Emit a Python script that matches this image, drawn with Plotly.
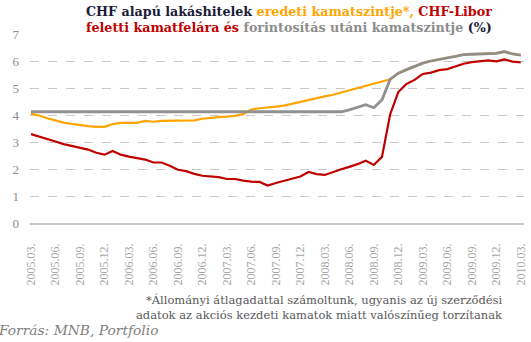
import plotly.graph_objects as go

months = []
for y in range(2005, 2011):
    for m in range(1, 13):
        if (y == 2005 and m < 3) or (y == 2010 and m > 3):
            continue
        months.append(f"{y}.{m:02d}.")

tick_labels = [m for m in months if int(m[5:7]) in (3, 6, 9, 12)]

orange_vals = [4.04, 3.98, 3.88, 3.80, 3.72, 3.67, 3.62, 3.59, 3.56, 3.56,
               3.66, 3.71, 3.71, 3.71, 3.78, 3.75, 3.78, 3.79, 3.80, 3.80,
               3.80, 3.86, 3.90, 3.92, 3.94, 3.97, 4.03, 4.20, 4.25, 4.27,
               4.31, 4.35, 4.42, 4.50, 4.56, 4.62, 4.69, 4.75, 4.83, 4.91,
               4.99, 5.08, 5.15, 5.23, 5.32, 5.55, 5.68, 5.80, 5.92, 6.00,
               6.07, 6.12, 6.17, 6.24, 6.25, 6.26, 6.27, 6.28, 6.35, 6.26,
               6.22]

red_vals = [3.29, 3.20, 3.13, 3.02, 2.92, 2.86, 2.80, 2.72, 2.60, 2.53,
            2.67, 2.53, 2.46, 2.40, 2.35, 2.24, 2.24, 2.12, 1.97, 1.92,
            1.82, 1.75, 1.72, 1.70, 1.63, 1.63, 1.57, 1.53, 1.52, 1.39,
            1.48, 1.56, 1.63, 1.72, 1.89, 1.81, 1.78, 1.89, 1.99, 2.08,
            2.18, 2.31, 2.15, 2.45, 4.02, 4.85, 5.15, 5.30, 5.52, 5.57,
            5.66, 5.70, 5.80, 5.90, 5.96, 6.00, 6.02, 5.99, 6.06, 5.98,
            5.95]

gray_vals = [4.12] * 39 + [4.19, 4.28, 4.38, 4.27, 4.56, 5.32, 5.55, 5.68,
                           5.80, 5.92, 6.00, 6.07, 6.12, 6.17, 6.24, 6.25,
                           6.26, 6.27, 6.28, 6.35, 6.26, 6.22]

x_idx = list(range(len(months)))
tick_idx = [i for i, m in enumerate(months) if m in tick_labels]

ORANGE = "#FFA500"
RED = "#C00000"
GRAY = "#8C8C8C"
SERIF = "Liberation Serif, DejaVu Serif, serif"
WIDE = "DejaVu Serif, serif"

fig = go.Figure()
fig.add_trace(go.Scatter(x=x_idx, y=orange_vals, mode="lines",
                         line=dict(color=ORANGE, width=2.2), hoverinfo="skip"))
fig.add_trace(go.Scatter(x=x_idx, y=red_vals, mode="lines",
                         line=dict(color=RED, width=2.2), hoverinfo="skip"))
fig.add_trace(go.Scatter(x=x_idx, y=gray_vals, mode="lines",
                         line=dict(color=GRAY, width=2.8), opacity=0.95, hoverinfo="skip"))

L, R, T, B = 30, 3, 34, 119
W, H = 531, 342
pw = W - L - R
ph = H - T - B

def px(xp):
    return (xp - L) / pw

def py(yp):
    return (H - B - yp) / ph

fig.update_layout(
    width=W, height=H,
    margin=dict(l=L, r=R, t=T, b=B),
    paper_bgcolor="white", plot_bgcolor="white",
    showlegend=False,
    xaxis=dict(range=[-0.12, 60.4], tickmode="array", tickvals=tick_idx,
               ticktext=tick_labels, tickangle=-90, showgrid=False,
               showline=True, linecolor="#C8C8C8", linewidth=1.5,
               zeroline=False, ticks="", ticklabelstandoff=14,
               ticklabeloverflow="allow",
               tickfont=dict(family=SERIF, size=12, color="#A6A6A6")),
    yaxis=dict(range=[0, 7], tickvals=[0, 1, 2, 3, 4, 5, 6, 7],
               showgrid=True, gridcolor="#C8C8C8", griddash="dash",
               gridwidth=1, zeroline=False, showline=False, ticks="",
               ticklabelstandoff=10,
               tickfont=dict(family=SERIF, size=13, color="#8C8C8C")),
)

title1 = ("<b><span style='color:#1A1A3A'>CHF alapú lakáshitelek</span> "
          f"<span style='color:{ORANGE}'>eredeti kamatszintje*,</span> "
          f"<span style='color:{RED}'>CHF-Libor</span></b>")
title2 = (f"<b><span style='color:{RED}'>feletti kamatfelára és</span> "
          f"<span style='color:{GRAY}'>forintosítás utáni kamatszintje</span> "
          "<span style='color:#1A1A3A'>(%)</span></b>")

fig.add_annotation(text=title1, x=px(291), y=py(11), xref="paper", yref="paper",
                   xanchor="center", yanchor="middle", showarrow=False,
                   font=dict(family=WIDE, size=12.7))
fig.add_annotation(text=title2, x=px(291), y=py(27), xref="paper", yref="paper",
                   xanchor="center", yanchor="middle", showarrow=False,
                   font=dict(family=WIDE, size=12.7))

note_font = dict(family=WIDE, size=11.5, color="#595959")
fig.add_annotation(text="*Állományi átlagadattal számoltunk, ugyanis az új szerződési",
                   x=px(509), y=py(299.5), xref="paper", yref="paper",
                   xanchor="right", yanchor="middle", showarrow=False, font=note_font)
fig.add_annotation(text="adatok az akciós kezdeti kamatok miatt valószínűeg torzítanak",
                   x=px(509), y=py(314.5), xref="paper", yref="paper",
                   xanchor="right", yanchor="middle", showarrow=False, font=note_font)
fig.add_annotation(text="<i>Forrás: MNB, Portfolio</i>",
                   x=px(-4), y=py(329.5), xref="paper", yref="paper",
                   xanchor="left", yanchor="middle", showarrow=False,
                   font=dict(family=WIDE, size=13.8, color="#7F7F7F"))

fig.write_html("out.html")
